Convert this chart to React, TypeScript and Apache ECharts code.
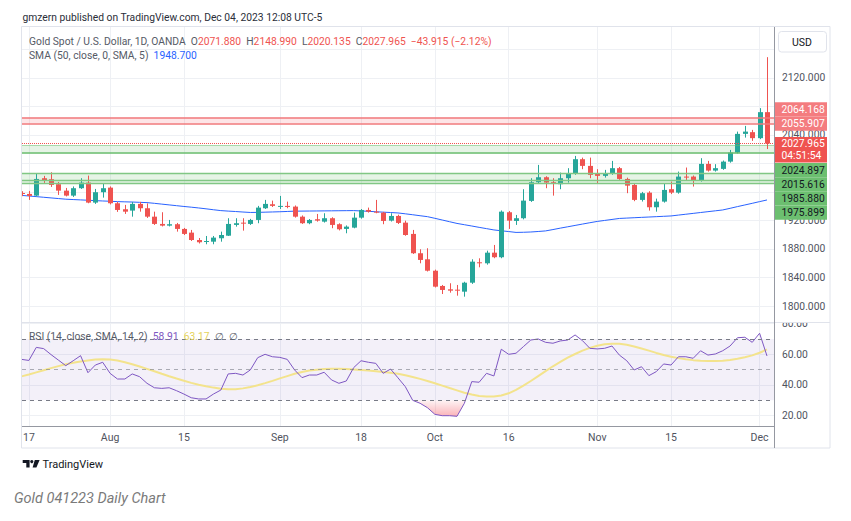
import React, { useEffect, useRef } from 'react';
import * as echarts from 'echarts';

const FONT = 'Roboto, "Noto Sans", Arial, sans-serif';

// Daily bars, index 0 = Jul 14 2023 ... index 101 = Dec 04 2023
const OPEN = [1958.5,
  1957.2, 1954.8, 1979.2, 1977.8, 1970.8, 1961.8, 1954.8, 1965.2, 1973.1, 1945.0,
  1959.6, 1966.0, 1944.1, 1935.7, 1933.8, 1943.2, 1937.1, 1925.3, 1915.1, 1912.7,
  1914.7, 1908.1, 1902.9, 1892.6, 1890.2, 1890.2, 1895.0, 1898.6, 1913.7, 1916.9,
  1915.1, 1920.7, 1937.1, 1942.7, 1939.4, 1940.4, 1939.4, 1925.3, 1916.1, 1921.7,
  1918.3, 1923.1, 1914.7, 1908.1, 1909.9, 1923.9, 1934.7, 1932.3, 1930.9, 1919.7,
  1926.3, 1916.9, 1901.1, 1874.0, 1865.5, 1849.5, 1828.1, 1823.4, 1822.9, 1820.1,
  1832.7, 1861.3, 1859.9, 1874.8, 1868.4, 1931.5, 1919.3, 1923.1, 1947.4, 1973.6,
  1980.6, 1973.6, 1970.8, 1979.2, 1985.3, 2005.9, 1996.5, 1985.3, 1982.5, 1985.3,
  1993.3, 1978.2, 1969.8, 1948.8, 1959.0, 1938.5, 1946.4, 1963.8, 1959.0, 1981.5,
  1981.5, 1975.9, 1999.3, 1989.9, 1992.3, 2002.5, 2015.2, 2041.4, 2043.8, 2035.4,
  2071.88];
const HIGH = [1961.0,
  1961.4, 1985.3, 1982.5, 1987.6, 1974.0, 1965.6, 1967.7, 1979.2, 1982.9, 1964.2,
  1972.2, 1967.7, 1946.0, 1941.8, 1946.0, 1946.0, 1943.9, 1932.3, 1931.5, 1920.7,
  1916.5, 1909.5, 1906.7, 1895.4, 1898.2, 1898.2, 1904.3, 1923.1, 1923.1, 1923.1,
  1922.2, 1940.4, 1948.8, 1947.8, 1954.4, 1946.4, 1941.0, 1927.0, 1922.0, 1929.1,
  1930.1, 1924.5, 1916.0, 1913.0, 1930.9, 1936.0, 1938.0, 1948.8, 1932.0, 1930.1,
  1928.0, 1919.7, 1906.7, 1879.6, 1881.0, 1851.0, 1829.5, 1831.9, 1829.5, 1834.0,
  1865.5, 1866.9, 1877.6, 1885.6, 1934.0, 1933.3, 1927.7, 1963.8, 1979.2, 1997.9,
  1982.0, 1979.2, 1987.1, 1993.3, 2010.5, 2008.1, 2008.1, 1991.9, 1990.9, 2003.5,
  1995.0, 1980.0, 1972.2, 1960.0, 1961.0, 1950.6, 1972.2, 1974.5, 1988.5, 1994.2,
  1983.0, 2007.3, 2003.5, 1998.9, 2004.0, 2018.9, 2044.6, 2052.6, 2047.0, 2077.5,
  2148.99];
const LOW = [1954.0,
  1948.8, 1953.7, 1972.6, 1967.0, 1955.8, 1953.7, 1953.0, 1964.2, 1944.1, 1943.2,
  1952.0, 1942.5, 1932.0, 1929.1, 1925.3, 1932.3, 1923.5, 1913.7, 1911.6, 1911.6,
  1904.3, 1899.6, 1891.2, 1887.7, 1886.6, 1886.6, 1890.2, 1898.2, 1911.3, 1905.7,
  1913.7, 1916.1, 1936.1, 1938.9, 1936.1, 1937.1, 1924.0, 1915.1, 1914.7, 1918.3,
  1917.0, 1909.1, 1906.0, 1902.0, 1909.0, 1922.5, 1931.0, 1930.1, 1914.7, 1918.5,
  1915.0, 1898.5, 1873.0, 1859.9, 1848.4, 1826.0, 1816.8, 1818.7, 1814.5, 1813.1,
  1831.0, 1854.3, 1858.0, 1867.0, 1867.0, 1908.1, 1913.7, 1921.5, 1946.0, 1972.0,
  1965.2, 1954.8, 1963.8, 1973.1, 1984.0, 1991.9, 1979.2, 1972.2, 1980.1, 1984.0,
  1977.0, 1958.2, 1947.0, 1946.5, 1933.8, 1932.3, 1945.0, 1957.0, 1957.5, 1976.8,
  1967.5, 1974.5, 1988.5, 1988.5, 1991.0, 2001.0, 2014.0, 2036.2, 2031.6, 2034.0,
  2020.135];
const CLOSE = [1957.5,
  1954.4, 1978.2, 1975.9, 1969.8, 1961.8, 1954.8, 1965.2, 1973.1, 1945.0, 1959.6,
  1965.2, 1944.1, 1934.7, 1932.3, 1943.2, 1937.1, 1925.3, 1915.1, 1912.7, 1914.7,
  1908.1, 1901.1, 1892.6, 1889.4, 1891.2, 1895.9, 1899.6, 1915.1, 1916.1, 1915.5,
  1920.7, 1938.0, 1943.2, 1940.4, 1940.4, 1938.9, 1925.3, 1916.1, 1920.7, 1919.7,
  1923.1, 1913.7, 1907.6, 1911.3, 1923.9, 1934.7, 1932.3, 1931.9, 1919.3, 1926.3,
  1916.5, 1899.6, 1874.0, 1864.6, 1849.5, 1827.1, 1822.5, 1821.5, 1822.0, 1832.7,
  1862.2, 1859.9, 1874.8, 1868.4, 1932.3, 1919.7, 1923.1, 1947.8, 1973.6, 1980.6,
  1973.1, 1972.2, 1979.2, 1985.3, 2005.9, 1996.5, 1983.9, 1982.5, 1985.3, 1993.3,
  1978.2, 1968.8, 1948.8, 1958.2, 1938.5, 1946.4, 1962.8, 1959.0, 1981.5, 1980.1,
  1975.9, 1999.3, 1989.9, 1993.3, 2002.5, 2015.2, 2041.4, 2044.6, 2035.4, 2071.88,
  2027.965];
const SMA50 = [1955.1,
  1954.3, 1953.4, 1952.5, 1951.6, 1950.7, 1949.8, 1949.3, 1948.8, 1948.3, 1947.8,
  1947.3, 1946.9, 1946.4, 1946.1, 1945.8, 1945.4, 1945.0, 1944.0, 1942.9, 1941.8,
  1940.7, 1939.6, 1938.6, 1937.5, 1936.3, 1935.0, 1933.8, 1933.1, 1932.5, 1931.8,
  1931.2, 1931.3, 1931.6, 1931.9, 1932.2, 1932.6, 1933.0, 1933.1, 1933.2, 1933.3,
  1933.4, 1933.5, 1933.6, 1933.7, 1933.8, 1933.3, 1932.8, 1932.2, 1931.6, 1931.1,
  1930.5, 1929.3, 1928.0, 1926.6, 1925.3, 1923.0, 1920.6, 1918.2, 1915.8, 1914.0,
  1912.2, 1910.3, 1908.5, 1906.7, 1905.5, 1904.4, 1903.2, 1903.4, 1903.8, 1904.5,
  1905.3, 1907.2, 1909.2, 1911.1, 1913.0, 1914.9, 1916.8, 1918.6, 1920.0, 1921.4,
  1922.8, 1923.3, 1923.8, 1924.3, 1924.8, 1925.3, 1925.8, 1926.3, 1927.5, 1928.7,
  1929.9, 1931.1, 1932.3, 1933.5, 1934.7, 1937.0, 1939.4, 1941.7, 1944.0, 1946.4,
  1948.7];
const RSI = [56.7,
  56.0, 64.5, 63.7, 59.8, 56.2, 52.6, 55.8, 59.1, 48.0, 53.0,
  54.8, 47.6, 43.9, 43.9, 47.2, 45.4, 41.1, 38.2, 37.8, 38.2,
  36.3, 34.1, 31.7, 30.9, 30.9, 34.1, 36.7, 47.2, 47.6, 46.5,
  49.8, 57.8, 60.0, 58.4, 58.0, 56.7, 49.8, 44.8, 46.5, 46.5,
  48.3, 43.3, 41.1, 42.6, 51.3, 55.8, 54.8, 54.1, 47.6, 50.4,
  44.7, 38.9, 30.0, 28.1, 25.2, 20.9, 20.0, 20.0, 19.6, 28.1,
  42.2, 41.8, 47.6, 45.9, 63.3, 60.0, 60.7, 65.0, 69.3, 70.0,
  67.8, 67.2, 68.7, 69.3, 72.6, 68.9, 63.9, 63.5, 63.9, 65.4,
  59.5, 55.8, 49.8, 51.9, 46.1, 48.7, 53.7, 53.0, 58.4, 58.4,
  57.4, 62.3, 59.5, 60.2, 62.3, 65.4, 70.8, 71.1, 67.8, 73.7,
  58.91];
const RSI_MA = [45.6,
  46.8, 48.2, 49.6, 51.0, 52.3, 53.5, 54.5, 55.3, 56.0, 56.6,
  56.8, 56.6, 55.9, 54.8, 53.5, 52.0, 50.5, 49.0, 47.3, 45.7,
  44.2, 42.8, 41.4, 40.2, 39.2, 38.3, 37.6, 37.3, 37.3, 37.8,
  38.7, 39.8, 41.2, 42.7, 44.3, 45.8, 47.3, 48.5, 49.4, 50.0,
  50.4, 50.6, 50.6, 50.4, 50.1, 49.8, 49.4, 49.0, 48.5, 48.0,
  47.3, 46.3, 45.2, 44.0, 42.6, 41.1, 39.6, 38.0, 36.5, 35.0,
  33.8, 32.9, 32.5, 32.5, 33.2, 34.6, 36.8, 39.6, 42.6, 45.8,
  49.0, 52.2, 55.0, 57.8, 60.2, 62.4, 64.2, 65.6, 66.5, 66.9,
  66.8, 66.2, 65.1, 63.8, 62.4, 60.9, 59.5, 58.4, 57.5, 56.8,
  56.2, 55.8, 55.6, 55.6, 55.8, 56.3, 57.1, 58.1, 59.3, 61.0,
  63.17];

const TICK_INDEX = [1, 12, 22, 35, 46, 56, 66, 78, 88, 100];
const TICK_LABELS = ['17', 'Aug', '15', 'Sep', '18', 'Oct', '16', 'Nov', '15', 'Dec'];
const PRICE_TICKS = [1800, 1840, 1880, 1920, 1960, 2000, 2040, 2080, 2120, 2160];
const PRICE_LABELS = [1800, 1840, 1880, 1920, 2040, 2120]; // the others sit under the price tags
const RSI_TICKS = [20, 40, 60, 80];
const RSI_LEVELS = [70, 50, 30];
const RED_LEVELS = [2064.168, 2055.907];
const GREEN_LEVELS = [2024.897, 2015.616, 1985.88, 1975.899];
const GREEN_EXTRA_LEVEL = 1971.5;
const COUNTDOWN = '04:51:54';

const XMIN = 0.065;
const XMAX = 101.95;
const PMIN = 1777.56;
const PMAX = 2191.3;
const RMIN = 13.29;
const RMAX = 81.04;

const UP = '#26a69a';
const DOWN = '#ef5350';
const AXIS_TXT = '#50535e';
const GRID_LINE = '#eef0f4';

function buildOption() {
  const candles = OPEN.map((o, i) => [i, o, CLOSE[i], LOW[i], HIGH[i]]);
  const last = CLOSE.length - 1;
  return {
    animation: false,
    backgroundColor: '#ffffff',
    textStyle: { fontFamily: FONT },
    grid: [
      { left: 22, top: 27, width: 752, height: 295 },
      { left: 22, top: 322, width: 752, height: 104 },
    ],
    xAxis: [
      {
        type: 'value', gridIndex: 0, min: XMIN, max: XMAX,
        axisLine: { show: false },
        axisTick: { show: false, customValues: TICK_INDEX },
        axisLabel: { show: false, customValues: TICK_INDEX },
        splitLine: { show: true, lineStyle: { color: GRID_LINE, width: 1 } },
      },
      {
        type: 'value', gridIndex: 1, min: XMIN, max: XMAX,
        axisLine: { show: true, onZero: false, lineStyle: { color: '#9598a1', width: 1 } },
        axisTick: { show: false, customValues: TICK_INDEX },
        axisLabel: {
          show: true, customValues: TICK_INDEX, color: AXIS_TXT, fontSize: 10.5, fontFamily: FONT, margin: 6,
          formatter: (v: number) => {
            const k = TICK_INDEX.indexOf(Math.round(v));
            return k >= 0 ? TICK_LABELS[k] : '';
          },
        },
        splitLine: { show: true, lineStyle: { color: GRID_LINE, width: 1 } },
      },
    ],
    yAxis: [
      {
        type: 'value', gridIndex: 0, position: 'right', min: PMIN, max: PMAX,
        axisLine: { show: false },
        axisTick: { show: false, customValues: PRICE_TICKS },
        axisLabel: {
          customValues: PRICE_LABELS, color: AXIS_TXT, fontSize: 10.3, fontFamily: FONT, margin: 8,
          formatter: (v: number) => v.toFixed(3),
        },
        splitLine: { show: true, lineStyle: { color: GRID_LINE, width: 1 } },
      },
      {
        type: 'value', gridIndex: 1, position: 'right', min: RMIN, max: RMAX,
        axisLine: { show: false },
        axisTick: { show: false, customValues: RSI_TICKS },
        axisLabel: {
          customValues: RSI_TICKS, color: AXIS_TXT, fontSize: 10.3, fontFamily: FONT, margin: 8,
          formatter: (v: number) => v.toFixed(2),
        },
        splitLine: { show: true, lineStyle: { color: GRID_LINE, width: 1 } },
      },
    ],
    series: [
      {
        name: 'SMA 50', type: 'line', xAxisIndex: 0, yAxisIndex: 0, z: 2,
        data: SMA50.map((v, i) => [i, v]), showSymbol: false, silent: true,
        lineStyle: { color: '#2962ff', width: 1 },
        markArea: {
          silent: true,
          data: [
            [{ yAxis: RED_LEVELS[1], itemStyle: { color: 'rgba(242,54,69,0.13)' } }, { yAxis: RED_LEVELS[0] }],
            [{ yAxis: GREEN_LEVELS[1], itemStyle: { color: 'rgba(76,175,80,0.14)' } }, { yAxis: GREEN_LEVELS[0] }],
            [{ yAxis: GREEN_EXTRA_LEVEL, itemStyle: { color: 'rgba(76,175,80,0.14)' } }, { yAxis: GREEN_LEVELS[2] }],
          ],
        },
        markLine: {
          silent: true, symbol: ['none', 'none'], label: { show: false },
          data: [
            { yAxis: RED_LEVELS[0], lineStyle: { color: '#f0787b', width: 1.5, type: 'solid' } },
            { yAxis: RED_LEVELS[1], lineStyle: { color: '#f0787b', width: 1.5, type: 'solid' } },
            { yAxis: GREEN_LEVELS[0], lineStyle: { color: 'rgba(102,187,106,0.55)', width: 1, type: 'solid' } },
            { yAxis: GREEN_LEVELS[1], lineStyle: { color: '#66bb6a', width: 1.5, type: 'solid' } },
            { yAxis: GREEN_LEVELS[2], lineStyle: { color: '#81c784', width: 1.3, type: 'solid' } },
            { yAxis: GREEN_LEVELS[3], lineStyle: { color: '#81c784', width: 1.3, type: 'solid' } },
            { yAxis: GREEN_EXTRA_LEVEL, lineStyle: { color: '#81c784', width: 1.3, type: 'solid' } },
            { yAxis: CLOSE[last], lineStyle: { color: '#ef5350', width: 1, type: 'dotted' } },
          ],
        },
      },
      {
        name: 'Gold', type: 'custom', xAxisIndex: 0, yAxisIndex: 0, z: 3, clip: true,
        data: candles, encode: { x: 0, y: [1, 2, 3, 4] },
        renderItem: (params: any, api: any) => {
          const i = api.value(0);
          const o = api.value(1), c = api.value(2), l = api.value(3), h = api.value(4);
          const pO = api.coord([i, o]);
          const yC = api.coord([i, c])[1];
          const yL = api.coord([i, l])[1];
          const yH = api.coord([i, h])[1];
          const color = c >= o ? UP : DOWN;
          const xr = Math.round(pO[0]);
          const top = Math.min(pO[1], yC);
          const bot = Math.max(pO[1], yC);
          return {
            type: 'group',
            children: [
              { type: 'line', shape: { x1: xr + 0.5, y1: yH, x2: xr + 0.5, y2: yL }, style: { stroke: color, lineWidth: 1 } },
              { type: 'rect', shape: { x: xr - 2, y: top, width: 5, height: Math.max(bot - top, 1) }, style: { fill: color } },
            ],
          };
        },
      },
      {
        name: 'Oversold', type: 'custom', xAxisIndex: 1, yAxisIndex: 1, z: 1, clip: true,
        data: [[50, 30]], encode: { x: 0, y: 1 },
        renderItem: (params: any, api: any) => {
          if (params.dataIndex !== 0) return null;
          const polys: number[][][] = [];
          let cur: number[][] | null = null;
          for (let i = 0; i < RSI.length; i++) {
            const v = RSI[i];
            if (v < 30) {
              if (!cur) {
                if (i > 0) {
                  const p = RSI[i - 1];
                  const t = (p - 30) / (p - v);
                  cur = [[i - 1 + t, 30]];
                } else cur = [[i, 30]];
              }
              cur.push([i, v]);
            } else if (cur) {
              const p = RSI[i - 1];
              const t = (30 - p) / (v - p);
              cur.push([i - 1 + t, 30]);
              polys.push(cur);
              cur = null;
            }
          }
          if (cur) { cur.push([RSI.length - 1, 30]); polys.push(cur); }
          return {
            type: 'group',
            children: polys.map((pts) => ({
              type: 'polygon',
              shape: { points: pts.map((p) => api.coord(p)) },
              style: {
                fill: new echarts.graphic.LinearGradient(0, 0, 0, 1, [
                  { offset: 0, color: 'rgba(242,54,69,0.06)' },
                  { offset: 1, color: 'rgba(242,54,69,0.38)' },
                ]),
              },
            })),
          };
        },
      },
      {
        name: 'RSI MA', type: 'line', xAxisIndex: 1, yAxisIndex: 1, z: 2,
        data: RSI_MA.map((v, i) => [i, v]), showSymbol: false, silent: true,
        lineStyle: { color: '#f3e38c', width: 2 },
        markArea: {
          silent: true,
          data: [[{ yAxis: RSI_LEVELS[2], itemStyle: { color: 'rgba(126,87,194,0.09)' } }, { yAxis: RSI_LEVELS[0] }]],
        },
        markLine: {
          silent: true, symbol: ['none', 'none'], label: { show: false },
          lineStyle: { color: '#787b86', width: 1, type: [4, 4] },
          data: [
            { yAxis: RSI_LEVELS[0] },
            { yAxis: RSI_LEVELS[1], lineStyle: { color: '#787b86', width: 1, type: [4, 4], opacity: 0.6 } },
            { yAxis: RSI_LEVELS[2] },
          ],
        },
      },
      {
        name: 'RSI', type: 'line', xAxisIndex: 1, yAxisIndex: 1, z: 3,
        data: RSI.map((v, i) => [i, v]), showSymbol: false, silent: true,
        lineStyle: { color: '#7e57c2', width: 1 },
      },
    ],
  };
}

function txt(text: string, x: number, y: number, fill: string, size = 10.3, extra: any = {}) {
  return {
    type: 'text', x, y, z: 90, silent: true,
    style: { text, fill, fontSize: size, fontFamily: FONT, verticalAlign: 'middle', align: 'left', ...extra },
  };
}

function richTxt(text: string, x: number, y: number, rich: Record<string, string>, size = 10.3) {
  const r: any = {};
  Object.keys(rich).forEach((k) => { r[k] = { fill: rich[k], fontSize: size, fontFamily: FONT }; });
  return {
    type: 'text', x, y, z: 90, silent: true,
    style: { text, fontSize: size, fontFamily: FONT, verticalAlign: 'middle', align: 'left', rich: r },
  };
}

export default function App() {
  const ref = useRef<HTMLDivElement>(null);
  useEffect(() => {
    document.body.style.margin = '0';
    const chart = echarts.init(ref.current!, null, { renderer: 'svg' });
    chart.setOption(buildOption());

    const last = CLOSE.length - 1;
    const yOf = (v: number) => chart.convertToPixel({ yAxisIndex: 0 }, v) as number;
    const LH = 14.2;
    const g: any[] = [];

    // frame
    g.push({ type: 'rect', z: 50, silent: true, shape: { x: 21.5, y: 26.5, width: 808.5, height: 421.5 }, style: { fill: 'none', stroke: '#e0e3eb', lineWidth: 1 } });
    g.push({ type: 'rect', z: 60, silent: true, shape: { x: 776, y: 312.5, width: 53, height: 10 }, style: { fill: '#ffffff' } });
    g.push({ type: 'line', z: 70, silent: true, shape: { x1: 22, y1: 322.5, x2: 830, y2: 322.5 }, style: { stroke: '#e0e3eb', lineWidth: 1 } });
    g.push({ type: 'line', z: 70, silent: true, shape: { x1: 774.5, y1: 27, x2: 774.5, y2: 448 }, style: { stroke: '#9598a1', lineWidth: 1 } });

    // USD box
    g.push({ type: 'rect', z: 80, silent: true, shape: { x: 778.5, y: 31.5, width: 48, height: 20.5, r: 3 }, style: { fill: '#ffffff', stroke: '#e0e3eb', lineWidth: 1 } });
    g.push(txt('USD', 802, 42, '#131722', 10.5, { align: 'center' }));

    // price tags on the axis
    const yc = yOf(CLOSE[last]);
    const curTop = yc - 6.5;
    const curBottom = yc + 19;
    g.push({ type: 'rect', z: 80, silent: true, shape: { x: 775, y: curTop, width: 52, height: curBottom - curTop }, style: { fill: '#ef5350' } });
    g.push(txt(CLOSE[last].toFixed(3), 781.5, yc + 0.5, '#ffffff', 10.3));
    g.push(txt(COUNTDOWN, 781.5, yc + 12.2, '#ffffff', 10.3));

    let prevTop = curTop;
    [...RED_LEVELS].sort((a, b) => a - b).forEach((v) => {
      const c = Math.min(yOf(v), prevTop - LH / 2);
      prevTop = c - LH / 2;
      g.push({ type: 'rect', z: 80, silent: true, shape: { x: 775, y: c - LH / 2, width: 52, height: LH }, style: { fill: '#f47c7f' } });
      g.push(txt(v.toFixed(3), 781.5, c + 0.3, '#ffffff', 10.3));
    });
    let prevBottom = curBottom + 0.5;
    [...GREEN_LEVELS].sort((a, b) => b - a).forEach((v) => {
      const c = Math.max(yOf(v), prevBottom + LH / 2);
      prevBottom = c + LH / 2;
      g.push({ type: 'rect', z: 80, silent: true, shape: { x: 775, y: c - LH / 2, width: 52, height: LH }, style: { fill: '#6cbf70' } });
      g.push(txt(v.toFixed(3), 781.5, c + 0.3, '#131722', 10.3));
    });

    // header
    g.push(txt('gmzern published on TradingView.com, Dec 04, 2023 12:08 UTC-5', 22.5, 17, '#2a2e39', 10.3));
    const LEG = '#555a66';
    const RED = '#ef5350';
    const chg = CLOSE[last] - CLOSE[last - 1];
    const pct = (chg / CLOSE[last - 1]) * 100;
    const fmt = (n: number, d: number) => (n < 0 ? '\u2212' : '+') + Math.abs(n).toFixed(d);
    const line2 =
      `{g|Gold Spot / U.S. Dollar, 1D, OANDA  O}{r|${OPEN[last].toFixed(3)}}` +
      `{g|  H}{r|${HIGH[last].toFixed(3)}}` +
      `{g|  L}{r|${LOW[last].toFixed(3)}}` +
      `{g|  C}{r|${CLOSE[last].toFixed(3)}}` +
      `{r|  ${fmt(chg, 3)} (${fmt(pct, 2)}%)}`;
    g.push(richTxt(line2, 29, 41, { g: LEG, r: RED }));
    g.push(richTxt(`{g|SMA (50, close, 0, SMA, 5)}{b|  ${SMA50[last].toFixed(3)}}`, 29, 55, { g: LEG, b: '#2962ff' }));

    // RSI legend
    g.push(richTxt(
      `{g|RSI (14, close, SMA, 14, 2)}{p|  ${RSI[last].toFixed(2)}}{y|  ${RSI_MA[last].toFixed(2)}}{g|  \u2205  \u2205}`,
      29, 336, { g: LEG, p: '#7e57c2', y: '#e6d35a' },
    ));

    // footer: TradingView logo + caption
    g.push({ type: 'polygon', z: 90, silent: true, shape: { points: [[22.7, 460], [29.6, 460], [29.6, 467.5], [26.3, 467.5], [26.3, 463], [22.7, 463]] }, style: { fill: '#131722' } });
    g.push({ type: 'circle', z: 90, silent: true, shape: { cx: 31.8, cy: 461.6, r: 1.6 }, style: { fill: '#131722' } });
    g.push({ type: 'polygon', z: 90, silent: true, shape: { points: [[34.8, 460], [39.6, 460], [36.4, 467.5], [32.6, 467.5]] }, style: { fill: '#131722' } });
    g.push(txt('TradingView', 42.5, 464, '#131722', 11));
    g.push(txt('Gold 041223 Daily Chart', 14, 498, '#7a7a7a', 14.5, { fontStyle: 'italic' }));

    chart.setOption({ graphic: { elements: g } });
    return () => chart.dispose();
  }, []);
  return <div ref={ref} style={{ width: 851, height: 521, background: '#ffffff' }} />;
}
